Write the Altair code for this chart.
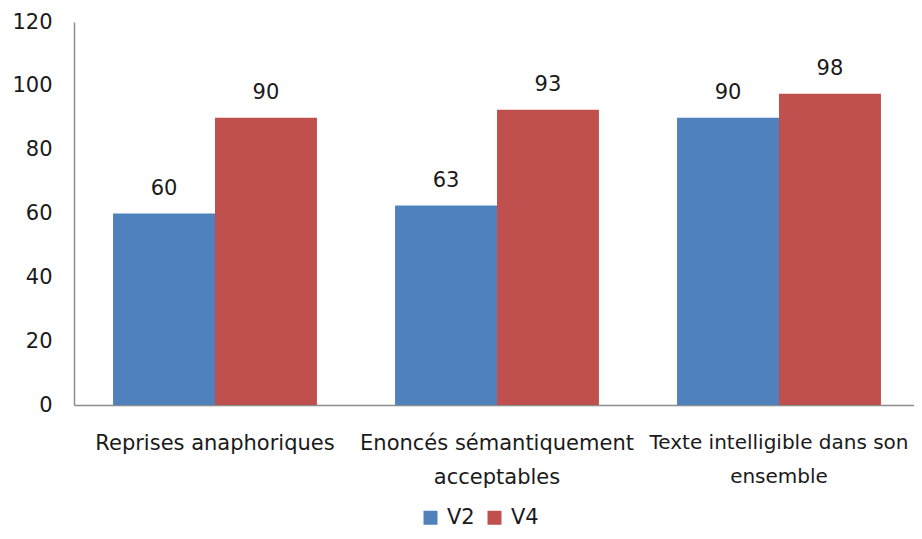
import altair as alt
import pandas as pd

categories = ["Reprises anaphoriques", "Enoncés sémantiquement acceptables", "Texte  intelligible dans son ensemble"]
series = ["V2", "V4"]
v2_values = [60, 62.5, 90]
v4_values = [90, 92.5, 97.5]
colors = ["#4F81BD", "#C0504D"]

rows = []
for c, a, b in zip(categories, v2_values, v4_values):
    rows.append({"cat": c, "serie": "V2", "val": a})
    rows.append({"cat": c, "serie": "V4", "val": b})
df = pd.DataFrame(rows)

FONT = "DejaVu Sans"
FS = 21
TXT = "#1a1a1a"

label_expr = (
    "datum.label == 'Enoncés sémantiquement acceptables' ? ['Enoncés sémantiquement', 'acceptables'] : "
    "datum.label == 'Texte  intelligible dans son ensemble' ? ['Texte  intelligible dans son', 'ensemble'] : datum.label"
)

x = alt.X("cat:N", sort=categories, title=None,
          scale=alt.Scale(range=[0, 846], paddingInner=0.277, paddingOuter=0.1385),
          axis=alt.Axis(labelAngle=0, labelFont=FONT,
                        labelFontSize={"condition": {"test": "datum.value == 'Texte  intelligible dans son ensemble'", "value": 20}, "value": FS},
                        labelColor=TXT,
                        labelPadding=27, labelLineHeight=34, ticks=False, domainColor="#8c8c8c",
                        domainWidth=1.5, labelExpr=label_expr, labelLimit=400, labelOverlap=False))
xo = alt.XOffset("serie:N", sort=series, scale=alt.Scale(paddingInner=0, paddingOuter=0))
y = alt.Y("val:Q", title=None,
          scale=alt.Scale(domain=[0, 120], nice=False),
          axis=alt.Axis(values=[0, 20, 40, 60, 80, 100, 120], grid=False, ticks=False,
                        labelFont=FONT, labelFontSize=FS, labelColor=TXT, labelPadding=22,
                        domainColor="#8c8c8c", domainWidth=1.5))

bars = alt.Chart(df).mark_bar().encode(
    x=x, xOffset=xo, y=y,
    color=alt.Color("serie:N", sort=series, title=None,
                    scale=alt.Scale(domain=series, range=colors),
                    legend=alt.Legend(orient="none", legendX=346, legendY=485, direction="horizontal",
                                      symbolType="square", symbolSize=196, symbolStrokeWidth=0,
                                      labelFont=FONT, labelFontSize=FS, labelColor=TXT,
                                      columnPadding=9, labelOffset=6)),
)

labels = alt.Chart(df).mark_text(baseline="alphabetic", dy=-19, font=FONT, fontSize=FS, color=TXT).encode(
    x=x, xOffset=xo, y=y,
    text=alt.Text("val:Q", format=".0f"),
)

chart = (bars + labels).properties(
    width=840, height=383,
    autosize=alt.AutoSizeParams(type="none"),
    padding={"left": 66, "top": 14, "right": 0, "bottom": 126},
).configure_view(stroke=None)

chart.save("out.html", embed_options={"renderer": "svg", "actions": False})
